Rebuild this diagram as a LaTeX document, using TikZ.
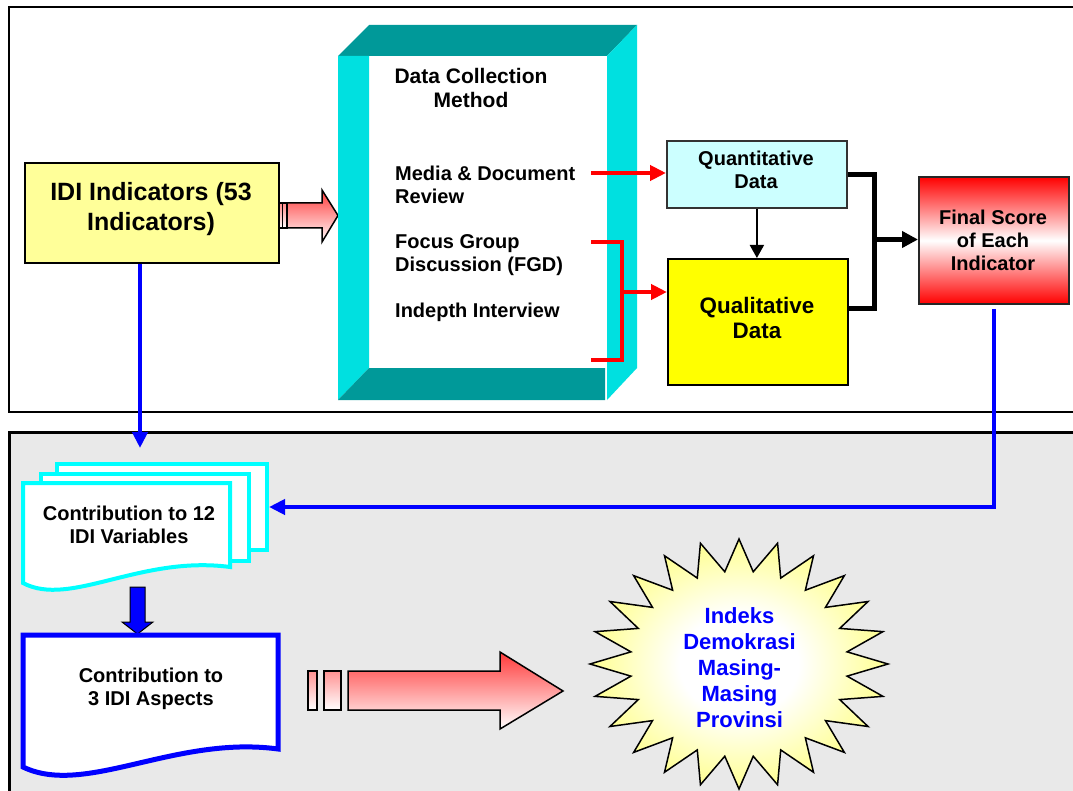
\documentclass[tikz,border=0pt]{standalone}
\usepackage{fontspec}
\setmainfont{Liberation Sans}
\usetikzlibrary{arrows.meta,calc}
\definecolor{tealdk}{HTML}{009999}
\definecolor{cyanlt}{HTML}{00E0E0}
\definecolor{bggray}{HTML}{E9E9E9}
\definecolor{idiY}{HTML}{FFFF99}
\definecolor{quantC}{HTML}{CCFFFF}
\definecolor{qualY}{HTML}{FFFF00}
\definecolor{pinkR}{HTML}{FF3A3A}
\definecolor{starY}{HTML}{FFFF40}
\definecolor{docC}{HTML}{00FFFF}
\definecolor{blueL}{HTML}{0000FF}
\pgfdeclareradialshading{starshade}{\pgfpoint{0bp}{0bp}}{color(0bp)=(white); color(10bp)=(white); color(36bp)=(starY); color(50bp)=(starY)}
\begin{document}
\begin{tikzpicture}[x=1pt,y=-1pt,
  boxn/.style={draw=black, line width=1.8pt, anchor=north west, inner sep=0pt},
  txt/.style={font=\bfseries\fontsize{20}{23}\selectfont, align=center, inner sep=0pt},
  ftxt/.style={font=\bfseries\fontsize{20}{23}\selectfont, align=left, inner sep=0pt, anchor=west},
  redc/.style={draw=red, line width=4pt, -{Triangle[length=16pt,width=15pt]}},
  redl/.style={draw=red, line width=4pt},
  blkc/.style={draw=black, line width=1.8pt, -{Triangle[length=13pt,width=14pt]}},
  blkl/.style={draw=black, line width=5pt},
  blkt/.style={draw=black, line width=5pt, -{Triangle[length=16pt,width=16pt]}},
  bluec/.style={draw=blueL, line width=4pt, -{Triangle[length=16pt,width=15pt]}},
  pinkshade/.style={draw=black, line width=1.5pt, top color=pinkR, bottom color=white},
  docrect/.style={draw=docC, line width=4pt, fill=white, anchor=north west, inner sep=0pt}
]
\useasboundingbox (0,0) rectangle (1073,791);
\clip (0,0) rectangle (1073,791);
\fill[white] (0,0) rectangle (1073,791);

% panels
\draw[line width=2.5pt] (9,7) rectangle (1095,412);
\draw[line width=3pt, fill=bggray] (9,432) rectangle (1095,810);

% IDI indicators
\node[boxn, fill=idiY, minimum width=254pt, minimum height=100pt] (idi) at (24,162) {};
\node[txt, font=\bfseries\fontsize{25}{30}\selectfont] (idit) at (151,209) {IDI Indicators (53\\Indicators)};

% pink arrow into frame
\draw[pinkshade, line width=1.2pt, top color=pinkR!60!white] (279,203) rectangle (282.5,228);
\draw[pinkshade, line width=1.2pt, top color=pinkR!60!white] (282.5,203) rectangle (287,228);
\draw[pinkshade] (287,203) -- (322,203) -- (322,190) -- (338,215.5) -- (322,242) -- (322,228) -- (287,228) -- cycle;

% 3D frame
\fill[tealdk] (338,56) -- (369,25) -- (637,25) -- (607,56) -- cycle;
\fill[cyanlt] (338,56) -- (369,56) -- (369,368) -- (338,400) -- cycle;
\fill[tealdk] (338,400) -- (369,368) -- (605,368) -- (605,400) -- cycle;
\fill[cyanlt] (607,56) -- (637,25) -- (637,368) -- (607,400) -- cycle;

\node[txt, font=\bfseries\fontsize{21}{24}\selectfont] (dcm) at (471,88) {Data Collection\\Method};
\node[ftxt] (mdr) at (395,185) {Media \& Document\\Review};
\node[ftxt] (fgd) at (395,255) {Focus Group\\Discussion (FGD)};
\node[ftxt] (iiv) at (395,312) {Indepth Interview};

% data boxes
\node[boxn, draw=black!80, fill=quantC, minimum width=180pt, minimum height=67pt] (quant) at (666,140) {};
\node[txt] (quantt) at (756,169.5) {Quantitative\\Data};
\node[boxn, fill=qualY, minimum width=180pt, minimum height=126pt] (qual) at (667,258) {};
\node[txt, font=\bfseries\fontsize{22.4}{25}\selectfont] (qualt) at (757,317.5) {Qualitative\\Data};
\node[boxn, draw=black!85, minimum width=150pt, minimum height=127pt,
      top color=red, bottom color=red, middle color=white] (final) at (918,176) {};
\node[txt] (finalt) at (993,240) {Final Score\\of Each\\Indicator};

% red connectors
\coordinate (r1) at (591,173);
\draw[redc] (r1) -- (r1 -| quant.west);
\coordinate (b1) at (591,242);
\coordinate (b2) at (591,360);
\coordinate (bm) at (622,292);
\draw[redl] (b1) -| (bm) |- (b2);
\draw[redc] (bm) -- (bm -| qual.west);

% black connectors
\draw[blkc] (quant.south) -- (quant.south |- qual.north);
\coordinate (km) at (874,239.5);
\coordinate (k2) at ([yshift=13pt]qual.east);
\draw[blkl] (quant.east) -| (km) |- (k2);
\draw[blkt] (km) -- (km -| final.west);

% stacked documents
\node[docrect, minimum width=210pt, minimum height=86pt] (v3) at (55,462) {};
\node[docrect, minimum width=208pt, minimum height=87pt] (v2) at (39,472) {};
\draw[draw=docC, line width=4pt, fill=white] (23,483) -- (230,483) -- (230,567)
   .. controls (140,555) and (70,608) .. (23,583) -- cycle;
\node[txt] (d12) at (129,524.5) {Contribution to 12\\IDI Variables};

% blue connectors
\coordinate (bt) at (140,448);
\draw[bluec] (idi.south -| bt) -- (bt);
\draw[bluec] ([yshift=-4pt]final.south) |- (v3.east);

% blue block arrow
\draw[fill=blueL, draw=black, line width=1pt] (130,587) -- (145,587) -- (145,622) -- (153,622) -- (137.5,634) -- (122,622) -- (130,622) -- cycle;

% aspects document
\draw[draw=blueL, line width=5pt, fill=white] (23,635) -- (278,635) -- (278,749)
   .. controls (175,735) and (85,797) .. (23,767) -- cycle;
\node[txt] (d3) at (151,688.5) {Contribution to\\3 IDI Aspects};

% pink block arrow bottom
\draw[pinkshade, line width=1.2pt, top color=pinkR!55!white] (308,671) rectangle (317,710);
\draw[pinkshade, line width=1.2pt, top color=pinkR!55!white] (324,671) rectangle (341,710);
\draw[pinkshade] (348,671) -- (500,671) -- (500,652) -- (563,691) -- (500,729) -- (500,710) -- (348,710) -- cycle;

% starburst
\draw[shift={(739,664)}, line width=1.5pt, draw=black, shading=starshade]
  (90:149 and 125) \foreach \i in {1,...,47} { -- ({90+7.5*\i}:{129+20*cos(180*\i)} and {109+16*cos(180*\i)}) } -- cycle;
\node[txt, text=blueL, font=\bfseries\fontsize{22}{26}\selectfont] (idx) at (739.5,668) {Indeks\\Demokrasi\\Masing-\\Masing\\Provinsi};
\end{tikzpicture}
\end{document}
